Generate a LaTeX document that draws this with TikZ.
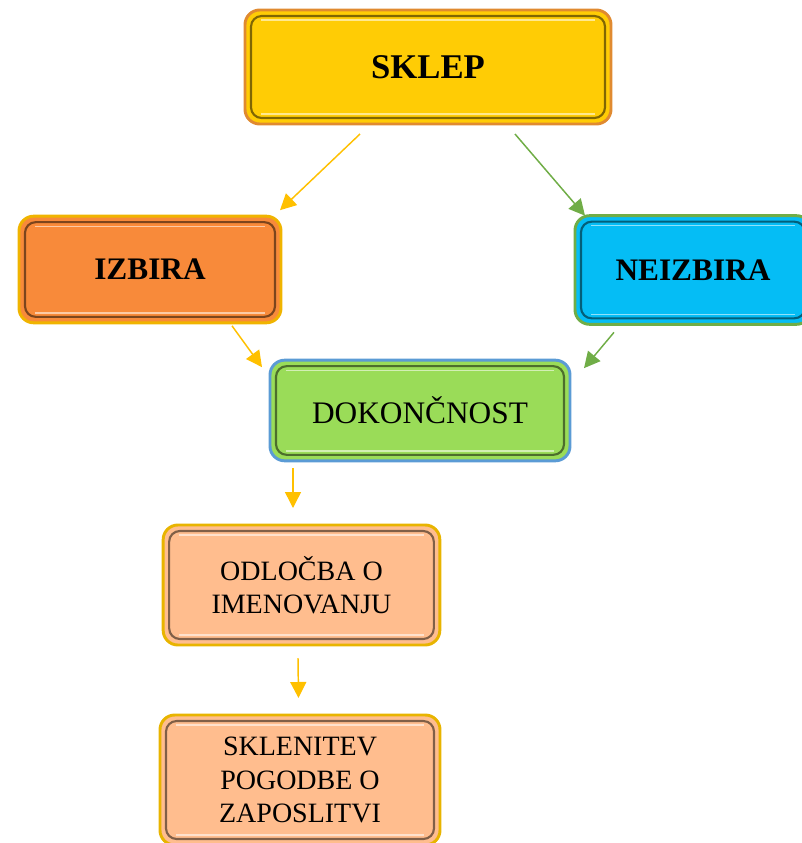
\documentclass[tikz,border=0pt]{standalone}
\usepackage{fontspec}
\setmainfont{Liberation Serif}
\usetikzlibrary{calc,arrows.meta}
\definecolor{cSk}{HTML}{FFCC05}
\definecolor{bSk}{HTML}{E08A30}
\definecolor{cIz}{HTML}{F88A3A}
\definecolor{bIz}{HTML}{F0B400}
\definecolor{cNe}{HTML}{05BDF5}
\definecolor{bNe}{HTML}{70AD47}
\definecolor{cDo}{HTML}{9ADC58}
\definecolor{bDo}{HTML}{5B9BD5}
\definecolor{cPe}{HTML}{FFBD8E}
\definecolor{bPe}{HTML}{E8B400}
\definecolor{aGold}{HTML}{FFC000}
\definecolor{aGreen}{HTML}{70AD47}
\newcommand\mybevel[2]{%
  \draw[#2!50!black, line width=1.6pt, rounded corners=8pt]
    ([shift={(4.5pt,-4.5pt)}]#1.north west) rectangle ([shift={(-4.5pt,4.5pt)}]#1.south east);
  \draw[#2!45!white, line width=1.2pt]
    ([shift={(12pt,7.5pt)}]#1.south west) -- ([shift={(-12pt,7.5pt)}]#1.south east);
  \draw[#2!45!white, line width=1pt]
    ([shift={(12pt,-7.5pt)}]#1.north west) -- ([shift={(-12pt,-7.5pt)}]#1.north east);
}
\begin{document}
\begin{tikzpicture}[x=0.75pt,y=-0.75pt]
\useasboundingbox (0,0) rectangle (801,843);
\tikzset{
  box/.style={rounded corners=11pt, line width=2.2pt, inner sep=0pt, outer sep=0pt, align=center},
  bigbold/.style={font=\bfseries\fontsize{26}{30}\selectfont},
  midbold/.style={font=\bfseries\fontsize{23.5}{28}\selectfont},
  midreg/.style={font=\fontsize{23.5}{28}\selectfont},
  smallreg/.style={font=\fontsize{21}{25}\selectfont},
  goldarrow/.style={draw=aGold, line width=1.1pt, -{Triangle[length=12pt,width=12pt]}},
  greenarrow/.style={draw=aGreen, line width=1.1pt, -{Triangle[length=12pt,width=12pt]}}
}
\node[box, bigbold, fill=cSk, draw=bSk, minimum width=274.5pt, minimum height=85.5pt] (sklep) at (428,67) {SKLEP};
\mybevel{sklep}{cSk}
\node[box, midbold, fill=cIz, draw=bIz, minimum width=196.5pt, minimum height=80pt] (izbira) at (150,269.5) {IZBIRA};
\mybevel{izbira}{cIz}
\node[box, midbold, fill=cNe, draw=bNe, minimum width=177pt, minimum height=81.5pt] (neizbira) at (693,270) {NEIZBIRA};
\mybevel{neizbira}{cNe}
\node[box, midreg, fill=cDo, draw=bDo, minimum width=225pt, minimum height=75.5pt] (dok) at (420,410.5) {DOKONČNOST};
\mybevel{dok}{cDo}
\node[box, smallreg, fill=cPe, draw=bPe, minimum width=207.5pt, minimum height=90pt] (odl) at (301.5,585) {ODLOČBA O\\IMENOVANJU};
\mybevel{odl}{cPe}
\node[box, smallreg, fill=cPe, draw=bPe, minimum width=210pt, minimum height=97.5pt, text depth=-3pt] (skl) at (300,780) {SKLENITEV\\POGODBE O\\ZAPOSLITVI};
\mybevel{skl}{cPe}

\draw[goldarrow] ($(sklep.south)+(-68,10)$) -- ($(izbira.north east)+(-1,-6)$);
\draw[greenarrow] ($(sklep.south)+(87,10)$) -- ($(neizbira.north west)+(10,0)$);
\draw[goldarrow] ($(izbira.south east)+(-49,3)$) -- ($(dok.north west)+(-8,7)$);
\draw[greenarrow] ($(neizbira.south west)+(39,8)$) -- ($(dok.north east)+(14,8)$);
\draw[goldarrow] ($(dok.south west)+(23,7)$) -- ($(odl.north)+(-8.5,-17)$);
\draw[goldarrow] ($(odl.south)+(-3.5,13)$) -- ($(skl.north)+(-1.5,-17)$);
\end{tikzpicture}
\end{document}
